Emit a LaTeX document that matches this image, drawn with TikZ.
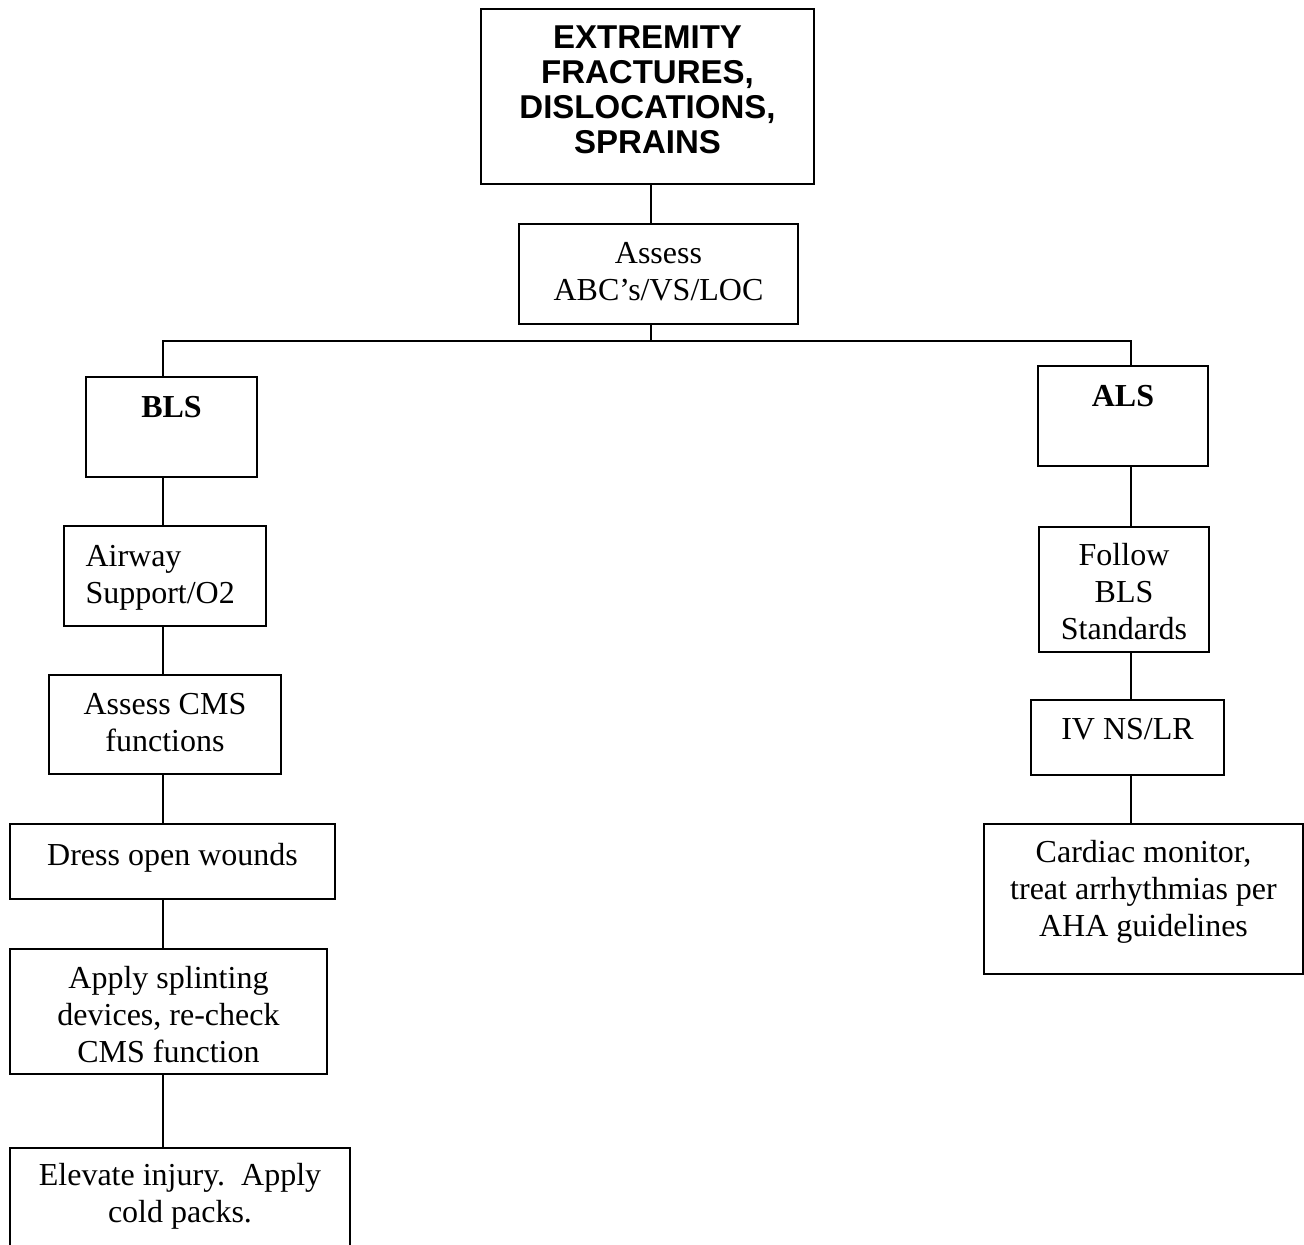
\documentclass[tikz,border=0pt]{standalone}
\usepackage{fontspec}
\setmainfont{Liberation Serif}
\setsansfont{Liberation Sans}
\begin{document}
\begin{tikzpicture}[x=1pt,y=-1pt,
  box/.style={draw, line width=1.4pt, inner sep=0pt, rectangle},
  txt/.style={inner sep=0pt, align=center, anchor=north, font=\fontsize{32}{36.8}\selectfont},
  conn/.style={line width=1.4pt}]
\useasboundingbox (0,0) rectangle (1304,1245);
\clip (0,0) rectangle (1304,1245);
\fill[white] (0,0) rectangle (1304,1245);
% boxes
\node[box, minimum width=333pt, minimum height=175pt] (top) at (647.5,96.5) {};
\node[box, minimum width=279pt, minimum height=100pt] (assess) at (658.5,274) {};
\node[box, minimum width=171pt, minimum height=100pt] (bls) at (171.5,427) {};
\node[box, minimum width=170pt, minimum height=100pt] (als) at (1123,416) {};
\node[box, minimum width=202pt, minimum height=100pt] (air) at (165,576) {};
\node[box, minimum width=232pt, minimum height=99pt] (cms) at (165,724.5) {};
\node[box, minimum width=325pt, minimum height=75pt] (dress) at (172.5,861.5) {};
\node[box, minimum width=317pt, minimum height=125pt] (splint) at (168.5,1011.5) {};
\node[box, minimum width=340pt, minimum height=112pt] (elev) at (180,1204) {};
\node[box, minimum width=170pt, minimum height=125pt] (follow) at (1124,589.5) {};
\node[box, minimum width=193pt, minimum height=75pt] (iv) at (1127.5,737.5) {};
\node[box, minimum width=319pt, minimum height=150pt] (card) at (1143.5,899) {};
% texts
\node[txt, font=\fontsize{33}{35}\selectfont\sffamily\bfseries] (topt) at ([yshift=-11pt]top.north) {\rule{0pt}{29pt}EXTREMITY\\FRACTURES,\\DISLOCATIONS,\\SPRAINS};
\node[txt] (assesst) at ([yshift=-11pt]assess.north) {\rule{0pt}{29pt}Assess\\ABC’s/VS/LOC};
\node[txt, font=\fontsize{32}{36.8}\selectfont\bfseries] (blst) at ([yshift=-12pt]bls.north) {\rule{0pt}{29pt}BLS};
\node[txt, font=\fontsize{32}{36.8}\selectfont\bfseries] (alst) at ([yshift=-12pt]als.north) {\rule{0pt}{29pt}ALS};
\node[txt, align=left, anchor=north west] (airt) at ([xshift=22pt,yshift=-12pt]air.north west) {\rule{0pt}{29pt}Airway\\Support/O2};
\node[txt] (cmst) at ([yshift=-11pt]cms.north) {\rule{0pt}{29pt}Assess CMS\\functions};
\node[txt] (dresst) at ([yshift=-13pt]dress.north) {\rule{0pt}{29pt}Dress open wounds};
\node[txt] (splintt) at ([yshift=-11pt]splint.north) {\rule{0pt}{29pt}Apply splinting\\devices, re-check\\CMS function};
\node[txt] (elevt) at ([yshift=-9pt]elev.north) {\rule{0pt}{29pt}Elevate injury.\ \ Apply\\cold packs.};
\node[txt] (followt) at ([yshift=-10pt]follow.north) {\rule{0pt}{29pt}Follow\\BLS\\Standards};
\node[txt] (ivt) at ([yshift=-11pt]iv.north) {\rule{0pt}{29pt}IV NS/LR};
\node[txt] (cardt) at ([yshift=-10pt]card.north) {\rule{0pt}{29pt}Cardiac monitor,\\treat arrhythmias per\\AHA guidelines};
% spine coordinates
\coordinate (cx) at (651,0);
\coordinate (lx) at (163,0);
\coordinate (rx) at (1131,0);
\coordinate (hub) at (651,341);
% connectors
\draw[conn] (top.south -| cx) -- (assess.north -| cx);
\draw[conn] (assess.south -| cx) -- (hub);
\draw[conn] (bls.north -| lx) -- (lx |- hub) -- (rx |- hub) -- (als.north -| rx);
\draw[conn] (bls.south -| lx) -- (air.north -| lx);
\draw[conn] (air.south -| lx) -- (cms.north -| lx);
\draw[conn] (cms.south -| lx) -- (dress.north -| lx);
\draw[conn] (dress.south -| lx) -- (splint.north -| lx);
\draw[conn] (splint.south -| lx) -- (elev.north -| lx);
\draw[conn] (als.south -| rx) -- (follow.north -| rx);
\draw[conn] (follow.south -| rx) -- (iv.north -| rx);
\draw[conn] (iv.south -| rx) -- (card.north -| rx);
\end{tikzpicture}
\end{document}
